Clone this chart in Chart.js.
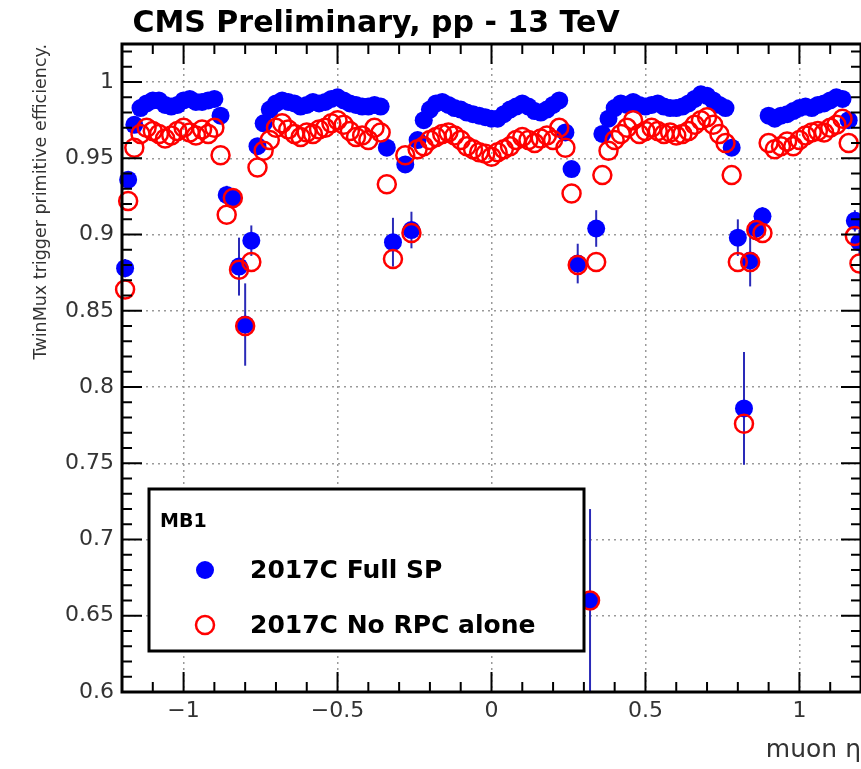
<!DOCTYPE html>
<html>
<head>
<meta charset="utf-8">
<script src="https://cdn.jsdelivr.net/npm/chart.js@4.4.0/dist/chart.umd.min.js"></script>
<style>
  body { margin: 0; background: #fff; }
  canvas { display: block; }
</style>
</head>
<body>
<canvas id="myChart" width="861" height="769"></canvas>
<script>
// muon eta bin centres (shared by both series)
var eta = [
  -1.19, -1.18, -1.16, -1.14, -1.12, -1.10, -1.08, -1.06, -1.04, -1.02, -1.00, -0.98, -0.96, -0.94, -0.92, -0.90,
  -0.88, -0.86, -0.84, -0.82, -0.80, -0.78,
  -0.76, -0.74, -0.72, -0.70, -0.68, -0.66, -0.64, -0.62, -0.60, -0.58, -0.56, -0.54, -0.52, -0.50, -0.48, -0.46,
  -0.44, -0.42, -0.40, -0.38, -0.36, -0.34, -0.32,
  -0.28, -0.26,
  -0.24, -0.22, -0.20, -0.18, -0.16, -0.14, -0.12, -0.10, -0.08, -0.06, -0.04, -0.02, 0.00, 0.02, 0.04, 0.06,
  0.08, 0.10, 0.12, 0.14, 0.16, 0.18, 0.20, 0.22, 0.24, 0.26, 0.28, 0.32, 0.34, 0.36,
  0.38, 0.40, 0.42, 0.44, 0.46, 0.48, 0.50, 0.52, 0.54, 0.56, 0.58, 0.60, 0.62, 0.64, 0.66, 0.68, 0.70, 0.72,
  0.74, 0.76, 0.78, 0.80, 0.82, 0.84, 0.86, 0.88,
  0.90, 0.92, 0.94, 0.96, 0.98, 1.00, 1.02, 1.04, 1.06, 1.08, 1.10, 1.12, 1.14, 1.16, 1.18, 1.195
];

// 2017C Full SP
var effFullSP = [
  0.878, 0.936, 0.972, 0.983, 0.986, 0.988, 0.988, 0.985, 0.984, 0.985, 0.988, 0.989, 0.987, 0.987, 0.988, 0.989,
  0.978, 0.926, 0.924, 0.879, 0.841, 0.896,
  0.958, 0.973, 0.982, 0.986, 0.988, 0.987, 0.986, 0.984, 0.985, 0.987, 0.986, 0.987, 0.989, 0.990, 0.988, 0.986,
  0.985, 0.984, 0.984, 0.985, 0.984, 0.957, 0.895,
  0.946, 0.903,
  0.962, 0.975, 0.982, 0.986, 0.987, 0.985, 0.983, 0.982, 0.980, 0.979, 0.978, 0.977, 0.976, 0.976, 0.979, 0.982,
  0.984, 0.986, 0.984, 0.981, 0.980, 0.982, 0.985, 0.988, 0.967, 0.943, 0.881, 0.660, 0.904, 0.966,
  0.976, 0.983, 0.986, 0.985, 0.987, 0.985, 0.984, 0.985, 0.986, 0.984, 0.983, 0.983, 0.984, 0.986, 0.989, 0.992, 0.991, 0.988,
  0.985, 0.983, 0.957, 0.898, 0.786, 0.883, 0.904, 0.912,
  0.978, 0.976, 0.978, 0.979, 0.981, 0.983, 0.984, 0.983, 0.985, 0.986, 0.988, 0.990, 0.989, 0.975, 0.909, 0.895
];
var errFullSP = [
  0.006, 0.005, 0.003, 0.002, 0.002, 0.002, 0.002, 0.002, 0.002, 0.002, 0.002, 0.002, 0.002, 0.002, 0.002, 0.002,
  0.003, 0.006, 0.006, 0.019, 0.027, 0.010,
  0.003, 0.002, 0.002, 0.002, 0.002, 0.002, 0.002, 0.002, 0.002, 0.002, 0.002, 0.002, 0.002, 0.002, 0.002, 0.002,
  0.002, 0.002, 0.002, 0.002, 0.002, 0.004, 0.016,
  0.004, 0.012,
  0.003, 0.002, 0.002, 0.002, 0.002, 0.002, 0.002, 0.002, 0.002, 0.002, 0.002, 0.002, 0.002, 0.002, 0.002, 0.002,
  0.002, 0.002, 0.002, 0.002, 0.002, 0.002, 0.002, 0.002, 0.003, 0.005, 0.013, 0.060, 0.012, 0.003,
  0.003, 0.002, 0.002, 0.002, 0.002, 0.002, 0.002, 0.002, 0.002, 0.002, 0.002, 0.002, 0.002, 0.002, 0.002, 0.002, 0.002, 0.002,
  0.002, 0.002, 0.004, 0.012, 0.037, 0.017, 0.008, 0.006,
  0.003, 0.002, 0.002, 0.002, 0.002, 0.002, 0.002, 0.002, 0.002, 0.002, 0.002, 0.002, 0.002, 0.003, 0.007, 0.008
];

// 2017C No RPC alone
var effNoRPC = [
  0.864, 0.922, 0.957, 0.966, 0.970, 0.968, 0.966, 0.963, 0.965, 0.968, 0.970, 0.967, 0.965, 0.969, 0.966, 0.970,
  0.952, 0.913, 0.924, 0.877, 0.840, 0.882,
  0.944, 0.955, 0.962, 0.970, 0.973, 0.969, 0.966, 0.964, 0.967, 0.966, 0.969, 0.970, 0.973, 0.975, 0.972, 0.968,
  0.964, 0.965, 0.962, 0.970, 0.967, 0.933, 0.884,
  0.952, 0.901,
  0.956, 0.958, 0.962, 0.964, 0.966, 0.967, 0.965, 0.962, 0.958, 0.956, 0.954, 0.953, 0.951, 0.954, 0.956, 0.958,
  0.962, 0.964, 0.962, 0.960, 0.963, 0.965, 0.962, 0.970, 0.957, 0.927, 0.880, 0.660, 0.882, 0.939,
  0.955, 0.962, 0.966, 0.970, 0.975, 0.966, 0.968, 0.970, 0.968, 0.966, 0.967, 0.965, 0.966, 0.968, 0.972, 0.975, 0.977, 0.972,
  0.966, 0.960, 0.939, 0.882, 0.776, 0.882, 0.903, 0.901,
  0.960, 0.956, 0.958, 0.961, 0.958, 0.962, 0.965, 0.967, 0.968, 0.967, 0.970, 0.972, 0.976, 0.960, 0.899, 0.881
];

var xTicks = [-1, -0.5, 0, 0.5, 1];
var yTicks = [0.6, 0.65, 0.7, 0.75, 0.8, 0.85, 0.9, 0.95, 1];

var fullPts = [];
var rpcPts = [];
for (i = 0; i < eta.length; i++) {
    fullPts.push({x: eta[i], y: effFullSP[i]});
    rpcPts.push({x: eta[i], y: effNoRPC[i]});
}

var FONT = "'DejaVu Sans', sans-serif";

function fmt(v) {
    var s = String(Math.round(v * 100) / 100);
    return s.replace('-', '\u2212');
}

// vertical error bars for the Full SP series
var errorBars = {
    id: 'errorBars',
    beforeDatasetsDraw: function(chart) {
        var ctx = chart.ctx, xs = chart.scales.x, ys = chart.scales.y, a = chart.chartArea;
        ctx.save();
        ctx.beginPath();
        ctx.rect(a.left, a.top, a.right - a.left, a.bottom - a.top);
        ctx.clip();
        ctx.strokeStyle = '#2a2ab8';
        ctx.lineWidth = 2;
        for (var i = 0; i < eta.length; i++) {
            var px = xs.getPixelForValue(eta[i]);
            ctx.beginPath();
            ctx.moveTo(px, ys.getPixelForValue(effFullSP[i] - errFullSP[i]));
            ctx.lineTo(px, ys.getPixelForValue(effFullSP[i] + errFullSP[i]));
            ctx.stroke();
        }
        ctx.restore();
    }
};

// ROOT style frame with inward ticks + legend box
var frame = {
    id: 'frame',
    afterDraw: function(chart) {
        var ctx = chart.ctx, xs = chart.scales.x, ys = chart.scales.y, a = chart.chartArea;
        ctx.save();
        ctx.strokeStyle = '#000';
        ctx.lineWidth = 2;
        ctx.beginPath();
        // y ticks every 0.01, long every 0.05
        for (var k = 60; k <= 102; k++) {
            var py = ys.getPixelForValue(k / 100);
            var len = (k % 5 == 0) ? 20 : 10;
            ctx.moveTo(a.left, py); ctx.lineTo(a.left + len, py);
            ctx.moveTo(a.right, py); ctx.lineTo(a.right - len, py);
        }
        // x ticks every 0.1, long every 0.5
        for (var j = -12; j <= 12; j++) {
            var px = xs.getPixelForValue(j / 10);
            var l2 = (j % 5 == 0) ? 20 : 10;
            ctx.moveTo(px, a.bottom); ctx.lineTo(px, a.bottom - l2);
            ctx.moveTo(px, a.top); ctx.lineTo(px, a.top + l2);
        }
        ctx.stroke();
        ctx.lineWidth = 3;
        ctx.strokeRect(a.left, a.top, a.right - a.left, a.bottom - a.top);

        // legend
        ctx.fillStyle = '#fff';
        ctx.fillRect(149, 489, 435, 162);
        ctx.lineWidth = 3;
        ctx.strokeRect(149, 489, 435, 162);
        ctx.fillStyle = '#000';
        ctx.textBaseline = 'middle';
        ctx.textAlign = 'left';
        ctx.font = "bold 19px " + FONT;
        ctx.fillText('MB1', 160, 522);
        ctx.font = "bold 25px " + FONT;
        ctx.fillText('2017C Full SP', 250, 571);
        ctx.fillText('2017C No RPC alone', 250, 626);
        ctx.fillStyle = '#0000ff';
        ctx.beginPath();
        ctx.arc(205, 570, 9, 0, Math.PI * 2);
        ctx.fill();
        ctx.strokeStyle = '#ff0000';
        ctx.lineWidth = 2.5;
        ctx.beginPath();
        ctx.arc(205, 625, 9, 0, Math.PI * 2);
        ctx.stroke();
        ctx.restore();
    }
};

new Chart(document.getElementById("myChart"), {
    type: 'scatter',
    data: {
        datasets: [
            {
                label: '2017C No RPC alone',
                data: rpcPts,
                pointStyle: 'circle',
                pointRadius: 9,
                pointBorderWidth: 2.5,
                pointBorderColor: '#ff0000',
                pointBackgroundColor: 'rgba(0,0,0,0)',
                order: 0,
                clip: false
            },
            {
                label: '2017C Full SP',
                data: fullPts,
                pointStyle: 'circle',
                pointRadius: 9,
                pointBorderWidth: 0,
                pointBackgroundColor: '#0000ff',
                order: 1,
                clip: false
            }
        ]
    },
    options: {
        responsive: false,
        animation: false,
        devicePixelRatio: 1,
        layout: { padding: 0, autoPadding: false },
        plugins: {
            legend: { display: false },
            tooltip: { enabled: false },
            title: {
                display: true,
                text: ' CMS Preliminary, pp - 13 TeV',
                align: 'start',
                fullSize: false,
                color: '#000',
                font: { family: FONT, size: 30, weight: 'bold' },
                padding: { top: 6, bottom: 2 }
            }
        },
        scales: {
            x: {
                type: 'linear',
                min: -1.2,
                max: 1.2,
                afterBuildTicks: function(s) { s.ticks = xTicks.map(function(v) { return {value: v}; }); },
                afterFit: function(s) { s.height = 77; s.paddingLeft = 0; s.paddingRight = 0; },
                ticks: {
                    color: '#333',
                    font: { family: FONT, size: 22 },
                    padding: 6,
                    maxRotation: 0,
                    callback: function(v) { return fmt(v); }
                },
                grid: { color: '#9a9a9a', lineWidth: 1.5, drawTicks: false },
                border: { display: false, dash: [2, 4] },
                title: {
                    display: true,
                    text: 'muon \u03b7',
                    align: 'end',
                    color: '#333',
                    font: { family: FONT, size: 25 },
                    padding: { top: 0, bottom: 4 }
                }
            },
            y: {
                type: 'linear',
                min: 0.6,
                max: 1.025,
                afterBuildTicks: function(s) { s.ticks = yTicks.map(function(v) { return {value: v}; }); },
                afterFit: function(s) { s.width = 122; s.paddingTop = 0; s.paddingBottom = 0; },
                ticks: {
                    color: '#333',
                    font: { family: FONT, size: 22 },
                    padding: 8,
                    callback: function(v) { return fmt(v); }
                },
                grid: { color: '#9a9a9a', lineWidth: 1.5, drawTicks: false },
                border: { display: false, dash: [2, 4] },
                title: {
                    display: true,
                    text: 'TwinMux trigger primitive efficiency.',
                    align: 'end',
                    color: '#333',
                    font: { family: FONT, size: 17.5 },
                    padding: { top: 31, bottom: 0 }
                }
            }
        }
    },
    plugins: [errorBars, frame]
});
</script>
</body>
</html>
